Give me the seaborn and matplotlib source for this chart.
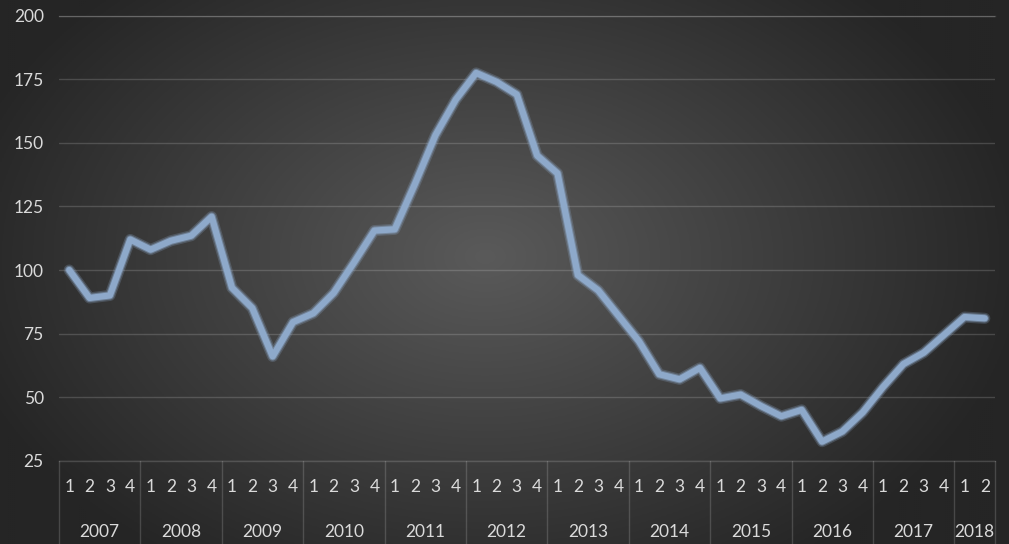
import numpy as np
import pandas as pd
import matplotlib
matplotlib.use('Agg')
import matplotlib.pyplot as plt
import matplotlib.patheffects as pe
import matplotlib.transforms as mtransforms
import seaborn as sns

# 数据：季度指数 (2007Q1 - 2018Q2)
years = ['2007', '2008', '2009', '2010', '2011', '2012',
         '2013', '2014', '2015', '2016', '2017', '2018']
quarters_per_year = [4, 4, 4, 4, 4, 4, 4, 4, 4, 4, 4, 2]
values = [100, 89, 90, 112,
          108, 111.5, 113.5, 121,
          93, 85, 66, 79.5,
          83, 91, 103, 115.5,
          116, 134, 153, 167,
          177.5, 174, 169, 145,
          138, 98, 92, 82,
          72, 59, 57, 61.5,
          49.5, 51, 46.5, 42.5,
          45, 32.5, 36.5, 44,
          54, 63, 67.5, 74.5,
          81.5, 81]
y_ticks = [25, 50, 75, 100, 125, 150, 175, 200]

quarter_labels = [str(q) for n in quarters_per_year for q in range(1, n + 1)]
year_of_point = [y for y, n in zip(years, quarters_per_year) for _ in range(n)]
df = pd.DataFrame({'idx': np.arange(len(values)), 'value': values,
                   'year': year_of_point, 'quarter': quarter_labels})

sns.set_style('white')
plt.rcParams['font.family'] = ['Lato', 'DejaVu Sans']

line_color = '#8EA9CA'
text_color = '#dadada'
grid_color = 'white'
grid_alpha = 0.16

fig = plt.figure(figsize=(10.09, 5.44), dpi=100)

# 背景：径向渐变
bg = fig.add_axes([0, 0, 1, 1], zorder=0)
h, w = 272, 505
yy, xx = np.mgrid[0:h, 0:w]
dx = (xx - w * 0.48) / (w * 0.54)
dy = (yy - h * 0.47) / (h * 0.68)
t = np.clip(np.sqrt(dx ** 2 + dy ** 2), 0, 1)
shade = (0x5a * (1 - t) + 0x25 * t) / 255.0
bg.imshow(np.dstack([shade, shade, shade]), extent=[0, 1, 0, 1], aspect='auto')
bg.set_axis_off()

ax = fig.add_axes([0.0585, 0.1531, 0.9276, 0.8180], zorder=1)
ax.set_facecolor('none')

sns.lineplot(data=df, x='idx', y='value', ax=ax, color=line_color, linewidth=4.5,
             path_effects=[pe.Stroke(linewidth=8, foreground=line_color, alpha=0.25),
                           pe.Stroke(linewidth=6, foreground=line_color, alpha=0.5),
                           pe.Normal()])

ax.set_xlim(-0.5, len(values) - 0.5)
ax.set_ylim(y_ticks[0], y_ticks[-1])
ax.set_yticks(y_ticks)
ax.yaxis.grid(True, color=grid_color, alpha=grid_alpha, linewidth=1)
ax.set_xticks(df['idx'], df['quarter'])
ax.tick_params(axis='x', length=0, pad=13, colors=text_color, labelsize=12.5)
ax.tick_params(axis='y', length=0, pad=11, colors=text_color, labelsize=12.5)
ax.set_xlabel('')
ax.set_ylabel('')

for side in ['left', 'right']:
    ax.spines[side].set_visible(False)
for side in ['top', 'bottom']:
    ax.spines[side].set_color(grid_color)
    ax.spines[side].set_alpha(grid_alpha)
    ax.spines[side].set_linewidth(1)

# 年份分隔线和年份标签
trans = mtransforms.blended_transform_factory(ax.transData, ax.transAxes)
bounds = np.concatenate([[0], np.cumsum(quarters_per_year)]) - 0.5
for b in bounds:
    ax.plot([b, b], [0, -0.2], transform=trans, color=grid_color, alpha=grid_alpha,
            linewidth=1, clip_on=False)
for yr in years:
    mid = df.loc[df['year'] == yr, 'idx'].mean()
    ax.text(mid, -0.160, yr, transform=trans, ha='center', va='center',
            color=text_color, fontsize=12.5)

plt.savefig('out.png', dpi=100)
